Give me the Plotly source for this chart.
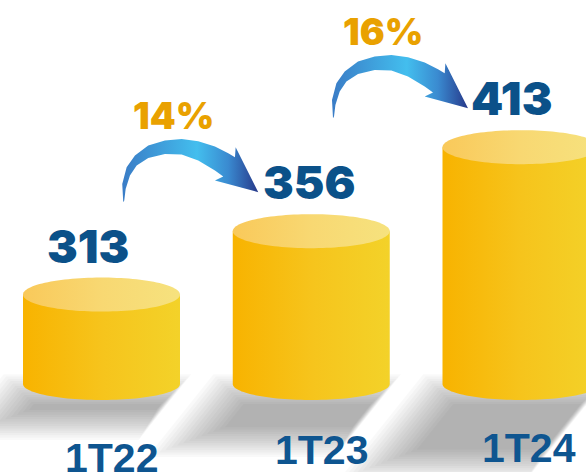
import numpy as np
import plotly.graph_objects as go

# data
quarters = ["1T22", "1T23", "1T24"]
values = [313, 356, 413]
growth = ["14%", "16%"]

# layout helpers (pixel <-> axis units)
W, H = 586, 472
PX_X = 209.75      # pixels per category step
PX_Y = 1.4737      # pixels per value unit
BASE = 252.3       # value where the cylinders stand
BASE_PX = 384      # pixel row of that value
x_range = [-101.5 / PX_X, (W - 101.5) / PX_X]
y_range = [BASE - (H - BASE_PX) / PX_Y, BASE + BASE_PX / PX_Y]


def dx(px):
    return px / PX_X


def dy(px):
    return px / PX_Y


rx, ry_top, ry_bot = dx(78.5), dy(17), dy(16)
t = np.linspace(0, np.pi, 60)
th = np.linspace(0, 2 * np.pi, 120)

fig = go.Figure()

# shadows (layered soft polygons to fake a blur)
for i, v in enumerate(values):
    h = (v - BASE) * PX_Y
    top = 4
    bot = 18 + 0.27 * h
    shift = -0.8 * (bot - top)
    for k in range(14):
        ins = (k - 6) * 2.3
        tl, tr = -84 + ins, 76 - ins
        t_, b_ = top + ins, bot - ins
        if b_ <= t_ + 1:
            break
        s = shift * (b_ - t_) / (bot - top)
        xs = [tl, tr, tr + s, tl + s, tl]
        ys = [t_, t_, b_, b_, t_]
        fig.add_trace(go.Scatter(
            x=[i + dx(a) for a in xs], y=[BASE - dy(b) for b in ys],
            fill="toself", mode="none", fillcolor="rgba(0,0,0,0.024)",
            hoverinfo="skip"))

# cylinders
for i, v in enumerate(values):
    bx = [i - rx] + list(i - rx * np.cos(t)) + [i + rx, i - rx]
    by = [v] + list(BASE - ry_bot * np.sin(t)) + [v, v]
    fig.add_trace(go.Scatter(
        x=bx, y=by, fill="toself", mode="none",
        fillgradient=dict(type="horizontal",
                          colorscale=[[0, "#F8B300"], [0.5, "#F6C41C"], [1, "#F3D229"]]),
        hoverinfo="skip"))
    fig.add_trace(go.Scatter(
        x=i + rx * np.cos(th), y=v + ry_top * np.sin(th), fill="toself", mode="none",
        fillgradient=dict(type="horizontal",
                          colorscale=[[0, "#F9C95A"], [0.5, "#F8D872"], [1, "#F6E27E"]]),
        hoverinfo="skip"))

# curved growth arrows (shape in pixels, relative to the tip)
arrow = [(-135, 10), (-136, -8.3), (-131.6, -25), (-123.3, -36.6), (-110, -46.6),
         (-93.3, -51.6), (-76.6, -53.3), (-60, -51), (-43.3, -45.6), (-30, -39),
         (-23.3, -35), (-22.6, -45), (0, 0), (-43.3, -11.6), (-35, -15.6),
         (-43.3, -21.6), (-60, -31.6), (-76.6, -37.6), (-93.3, -38.3), (-110, -34.3),
         (-121.6, -26.6), (-128.3, -16.6), (-132.6, -3.3), (-134, 8.4), (-135, 10)]

for i, g in enumerate(growth):
    tip_x = i + 1 + dx(-53)
    tip_y = values[i + 1] + dy(39)
    fig.add_trace(go.Scatter(
        x=[tip_x + dx(a) for a, b in arrow], y=[tip_y - dy(b) for a, b in arrow],
        fill="toself", mode="none",
        fillgradient=dict(type="horizontal",
                          colorscale=[[0, "#3A7CC6"], [0.55, "#43BEEE"],
                                      [0.78, "#3A8AD0"], [1, "#27398A"]]),
        hoverinfo="skip"))
    fig.add_annotation(x=tip_x, y=tip_y, xshift=-85, yshift=77, text=g,
                       showarrow=False,
                       font=dict(family="Inter", size=37, weight=900, color="#E9A100"))

# value labels
label_dx = [-14, -2, -10]
for i, v in enumerate(values):
    fig.add_annotation(x=i, y=v, xshift=label_dx[i], yshift=49, text=str(v),
                       showarrow=False,
                       font=dict(family="Inter", size=46, weight=900, color="#0B5189"))

# quarter labels
cat_dx = [10, 10, 8]
cat_dy = [-74, -66, -64]
for i, q in enumerate(quarters):
    fig.add_annotation(x=i, y=BASE, xshift=cat_dx[i], yshift=cat_dy[i], text=q,
                       showarrow=False,
                       font=dict(family="Liberation Sans", size=41, weight="bold",
                                 color="#0E5590"))

fig.update_layout(
    width=W, height=H, margin=dict(l=0, r=0, t=0, b=0),
    paper_bgcolor="white", plot_bgcolor="white", showlegend=False,
    xaxis=dict(range=x_range, visible=False, fixedrange=True),
    yaxis=dict(range=y_range, visible=False, fixedrange=True),
)

fig.write_html("out.html", config={"displayModeBar": False},
               post_script="document.body.style.margin='0';")
